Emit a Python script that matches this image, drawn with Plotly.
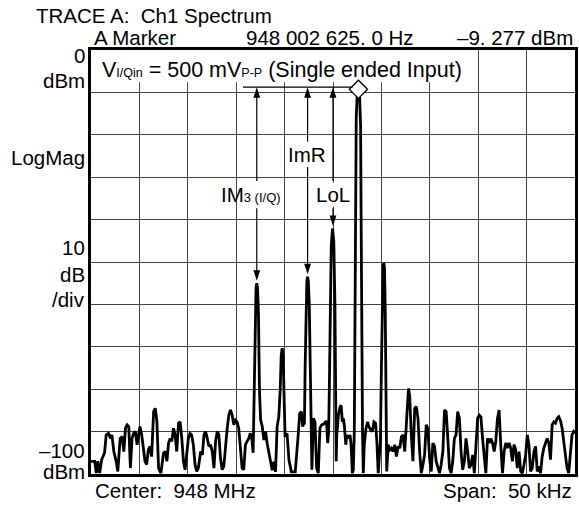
import plotly.graph_objects as go

# trace A, offset from 948 MHz centre (kHz) and level (dBm)
freq_khz = [
    -25.0, -24.62, -24.45, -24.3, -24.1, -23.9, -23.6, -23.43, -23.19, -22.98,
    -22.84, -22.64, -22.40, -22.23, -21.99, -21.78, -21.61, -21.44, -21.27, -21.10,
    -20.93, -20.76, -20.59, -20.41, -20.24, -20.11, -19.94, -19.76, -19.59, -19.42,
    -19.25, -19.08, -18.91, -18.74, -18.53, -18.36, -18.19, -18.02, -17.78, -17.51,
    -17.33, -17.16, -16.99, -16.82, -16.65, -16.48, -16.31, -16.14, -15.96, -15.79,
    -15.62, -15.45, -15.28, -15.11, -14.94, -14.77, -14.60, -14.43, -14.25, -14.08,
    -13.91, -13.67, -13.50, -13.33, -13.16, -12.99, -12.82, -12.65, -12.47, -12.30,
    -12.13, -11.96, -11.79, -11.62, -11.45, -11.28, -11.11, -10.93, -10.76, -10.59,
    -10.42, -10.25, -10.08, -9.91, -9.74, -9.57, -9.39, -9.22, -9.05, -8.88,
    -8.71, -8.54, -8.37,
    -8.25, -8.15, -8.05, -7.95, -7.875, -7.8, -7.7, -7.6, -7.48,
    -7.31, -7.14, -6.96, -6.80, -6.62, -6.45, -6.28, -6.11, -5.94, -5.77, -5.60,
    -5.45, -5.35, -5.25, -5.15, -5.05, -4.95, -4.75, -4.55, -4.30, -3.90,
    -3.61, -3.44, -3.27, -3.13, -3.02,
    -2.95, -2.88, -2.8, -2.7, -2.625, -2.55, -2.45, -2.37, -2.28, -2.18,
    -2.03, -1.86, -1.69, -1.52, -1.35, -1.18, -1.01, -0.84, -0.67, -0.55, -0.45,
    -0.38, -0.3, -0.18, -0.05, 0.08, 0.2, 0.28, 0.33,
    0.39, 0.56, 0.74, 0.84, 0.97, 1.08, 1.18, 1.32, 1.42, 1.59, 1.76, 1.87, 2.00, 2.1,
    2.2, 2.3, 2.4, 2.5, 2.625, 2.75, 2.85, 2.92, 2.98, 3.05, 3.13,
    3.23, 3.41, 3.58, 3.71, 3.88, 4.06, 4.23, 4.40, 4.53, 4.67,
    4.9, 5.0, 5.1, 5.18, 5.25, 5.32, 5.4, 5.48, 5.55,
    5.70, 5.87, 6.04, 6.21, 6.38, 6.55, 6.72, 6.90, 7.07, 7.24, 7.41,
    7.58, 7.68, 7.8, 7.92, 8.02, 8.09, 8.26, 8.44, 8.61, 8.78, 8.95,
    9.12, 9.29, 9.46, 9.63, 9.80, 9.98, 10.15, 10.32, 10.49, 10.66, 10.83,
    11.00, 11.17, 11.35, 11.52, 11.69, 11.86, 12.03, 12.20, 12.37, 12.54, 12.71,
    12.88, 13.06, 13.23, 13.40, 13.57, 13.74, 13.91, 14.08, 14.25, 14.43, 14.60,
    14.77, 14.94, 15.11, 15.28, 15.45, 15.62, 15.79, 15.96, 16.14, 16.31, 16.48,
    16.65, 16.82, 16.99, 17.16, 17.33, 17.51, 17.68, 17.85, 18.02, 18.19, 18.36,
    18.53, 18.70, 18.87, 19.04, 19.22, 19.39, 19.56, 19.73, 19.90, 20.07, 20.24,
    20.41, 20.58, 20.76, 20.93, 21.10, 21.27, 21.44, 21.61, 21.78, 21.95, 22.12,
    22.30, 22.47, 22.64, 22.81, 22.98, 23.15, 23.32, 23.49, 23.67, 23.84, 24.01,
    24.18, 24.35, 24.52, 24.69, 24.86, 25.0,
]
level_dbm = [
    -97.0, -97.0, -99.8, -97.0, -99.8, -96.6, -95.0, -90.8, -90.4, -91.6,
    -90.8, -94.7, -97.0, -99.4, -91.6, -91.2, -94.7, -89.2, -88.4, -88.8,
    -98.6, -91.6, -90.4, -90.0, -93.1, -91.2, -88.8, -90.8, -94.7, -97.0,
    -97.8, -94.3, -93.5, -95.9, -85.3, -84.5, -87.7, -98.6, -99.8, -95.1,
    -94.7, -97.0, -92.7, -91.6, -92.3, -89.2, -90.8, -94.7, -88.0, -87.7,
    -91.6, -97.0, -99.0, -94.7, -91.6, -90.4, -90.8, -93.1, -97.8, -99.4,
    -98.6, -94.7, -95.5, -90.8, -90.0, -91.6, -93.5, -93.1, -94.7, -98.6,
    -92.3, -90.0, -90.8, -96.3, -99.0, -98.2, -93.1, -89.2, -86.1, -84.9,
    -86.1, -88.4, -87.3, -87.7, -89.2, -93.1, -98.6, -99.0, -93.1, -92.3,
    -91.6, -90.4, -92.0,
    -95.0, -80.0, -62.0, -56.0, -55.0, -56.0, -62.0, -80.0, -87.2,
    -88.8, -92.0, -90.0, -92.8, -95.1, -96.7, -99.1, -97.1, -99.5, -88.8, -86.5,
    -80.0, -72.0, -70.3, -72.0, -82.0, -91.2, -90.4, -96.7, -99.5, -99.5,
    -91.2, -85.7, -85.3, -88.8, -88.0,
    -88.0, -75.0, -60.0, -54.5, -53.5, -54.5, -60.0, -75.0, -92.0, -99.0,
    -86.9, -87.7, -98.6, -99.8, -89.2, -88.4, -88.3, -88.0, -87.5, -92.7, -90.0,
    -80.0, -60.0, -46.0, -42.1, -45.0, -60.0, -80.0, -97.0,
    -90.8, -86.1, -84.1, -83.8, -87.7, -86.9, -88.8, -93.1, -90.8, -91.6, -90.8, -93.1, -99.8, -99.0,
    -90.0, -50.0, -16.0, -10.5, -9.28, -11.0, -18.0, -45.0, -72.0, -90.0, -99.8,
    -93.1, -89.2, -87.7, -88.8, -89.6, -90.0, -87.7, -88.0, -92.3, -99.8,
    -92.0, -75.0, -58.0, -51.0, -50.2, -51.5, -62.0, -85.0, -99.4,
    -93.1, -94.3, -93.9, -94.7, -93.1, -95.9, -93.5, -93.9, -91.2, -90.8, -94.7,
    -88.0, -82.0, -79.8, -81.5, -88.0, -90.8, -97.0, -84.5, -84.1, -86.9, -94.7,
    -99.8, -97.8, -95.5, -88.4, -89.2, -96.3, -99.4, -92.7, -93.5, -97.0, -98.6,
    -99.8, -97.8, -94.7, -84.9, -85.3, -91.6, -98.6, -99.8, -97.0, -91.6, -90.8,
    -85.3, -86.9, -94.7, -99.0, -97.0, -91.6, -94.7, -98.6, -97.8, -95.5, -99.8,
    -93.1, -86.9, -86.1, -86.5, -91.6, -96.3, -99.8, -91.6, -92.7, -91.6, -92.7,
    -94.7, -92.3, -86.9, -84.9, -93.1, -99.8, -94.7, -92.7, -93.9, -92.7, -93.9,
    -97.0, -93.1, -94.3, -98.6, -94.7, -99.4, -99.8, -97.8, -95.5, -90.8, -93.1,
    -99.4, -98.6, -94.7, -93.5, -99.4, -98.2, -99.8, -95.9, -93.9, -92.7, -91.6,
    -92.7, -96.6, -88.4, -87.7, -88.0, -86.9, -86.5, -87.3, -89.2, -92.7, -95.5,
    -98.6, -99.8, -94.7, -90.8, -90.0, -90.4,
]

# marker readout
marker_khz = 2.625
marker_dbm = -9.277

# labelled spurs: name, offset (kHz), peak level (dBm)
spur_names = ['IM<span style="font-size:13px">3 (I/Q)</span>', 'ImR', 'LoL']
spur_khz = [-7.875, -2.625, 0.0]
spur_dbm = [-55.0, -53.5, -42.1]

FONT = "Liberation Sans, Arial, sans-serif"
FS = 20.5
L, R, T, B = 91, 1, 50, 34
W, H = 579, 508


def px(x):
    return (x - L) / (W - L - R)


def py(y):
    return (H - B - y) / (H - T - B)


fig = go.Figure()
fig.add_trace(go.Scatter(x=freq_khz, y=level_dbm, mode="lines",
                         line=dict(color="black", width=2.8), hoverinfo="skip"))

# arrow heads (tip sits on the data point)
ref_dbm = marker_dbm + 0.5
up_y = [ref_dbm] * len(spur_khz)
down_y = [d + 0.6 for d in spur_dbm]
fig.add_trace(go.Scatter(x=spur_khz, y=up_y, mode="markers",
                         marker=dict(symbol="arrow", size=11, color="black", angle=0,
                                     line=dict(width=0))))
fig.add_trace(go.Scatter(x=spur_khz, y=down_y, mode="markers",
                         marker=dict(symbol="arrow", size=11, color="black", angle=180,
                                     line=dict(width=0))))

fig.add_trace(go.Scatter(x=[marker_khz], y=[marker_dbm], mode="markers",
                         marker=dict(symbol="diamond", size=14, color="white",
                                     line=dict(color="black", width=1.3))))

shapes = []
# blank strip behind the setup text
shapes.append(dict(type="rect", xref="x", yref="y", x0=-25, x1=13.4, y0=-7.6, y1=0,
                   fillcolor="white", line=dict(width=0), layer="between"))
# marker reference line
shapes.append(dict(type="line", xref="x", yref="y", x0=-9.3, x1=marker_khz - 0.6,
                   y0=ref_dbm, y1=ref_dbm, line=dict(color="black", width=1.2)))

label_pos = [(-8.47, -34.1), (-2.65, -24.6), (-0.05, -34.1)]
label_half = [2.6, 2.4, 2.6]
anns = []
for name, fx, pk, (lx, ly), hh in zip(spur_names, spur_khz, spur_dbm, label_pos, label_half):
    shapes.append(dict(type="line", xref="x", yref="y", x0=fx, x1=fx,
                       y0=ly + hh + 0.6, y1=ref_dbm - 2, line=dict(color="black", width=1.2)))
    shapes.append(dict(type="line", xref="x", yref="y", x0=fx, x1=fx,
                       y0=ly - hh - 0.6, y1=pk + 2, line=dict(color="black", width=1.2)))
    anns.append(dict(x=lx, y=ly, xref="x", yref="y", text=name, showarrow=False,
                     xanchor="center", yanchor="middle",
                     bgcolor="white" if name != spur_names[0] else "rgba(0,0,0,0)",
                     borderpad=0, font=dict(size=FS)))


def txt(s, x, y, anchor="left", size=FS):
    anns.append(dict(x=px(x), y=py(y), xref="paper", yref="paper", text=s,
                     showarrow=False, xanchor=anchor, yanchor="middle",
                     font=dict(size=size)))


txt("TRACE A:  Ch1 Spectrum", 34, 15)
txt("A Marker", 92, 38)
txt("948 002 625. 0 Hz", 331, 38, "center")
txt("\u20139. 277 dBm", 578, 38, "right")
txt("0", 87, 55, "right")
txt("dBm", 87, 80, "right")
txt("LogMag", 87, 157, "right")
txt("10", 87, 248, "right")
txt("dB", 87, 274, "right")
txt("/div", 87, 299, "right")
txt("\u2013100", 87, 450, "right")
txt("dBm", 87, 471, "right")
txt("Center:  948 MHz", 93, 490)
txt("Span:  50 kHz", 577, 490, "right")
txt('V<span style="font-size:12.5px">I/Qin</span> = 500 mV<span style="font-size:12.5px">P-P</span>'
    ' (Single ended Input)', 100, 70, size=21.5)

fig.update_layout(
    width=W, height=H, margin=dict(l=L, r=R, t=T, b=B, pad=0),
    paper_bgcolor="white", plot_bgcolor="white", showlegend=False,
    font=dict(family=FONT, size=FS, color="black"),
    shapes=shapes, annotations=anns,
)
fig.update_xaxes(range=[-25, 25], tick0=-25, dtick=5, showticklabels=False, ticks="",
                 showgrid=True, gridcolor="#444", gridwidth=1.2, zeroline=False,
                 showline=True, linecolor="black", linewidth=3, mirror=True)
fig.update_yaxes(range=[-100, 0], tick0=-100, dtick=10, showticklabels=False, ticks="",
                 showgrid=True, gridcolor="#444", gridwidth=1.2, zeroline=False,
                 showline=True, linecolor="black", linewidth=3, mirror=True)

# page body has a default 8px margin; drop it so the figure sits at the corner
fig.write_html("out.html", config={"displayModeBar": False},
               post_script="document.body.style.margin='0';")
